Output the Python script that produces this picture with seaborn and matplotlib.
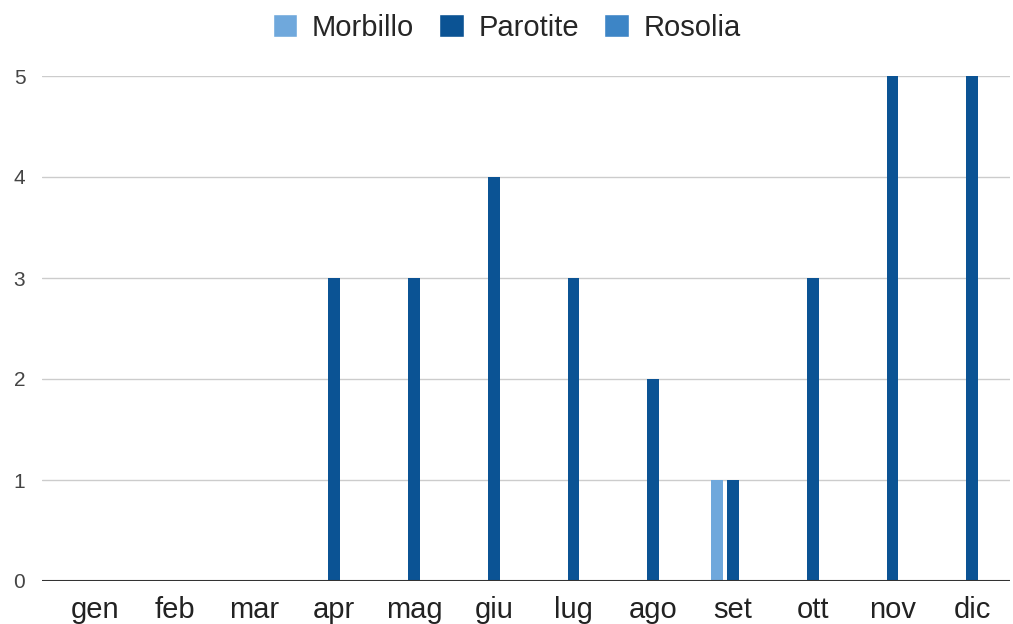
import matplotlib.pyplot as plt
import pandas as pd
import seaborn as sns
from matplotlib.patches import Patch

months = ['gen', 'feb', 'mar', 'apr', 'mag', 'giu', 'lug', 'ago', 'set', 'ott', 'nov', 'dic']
morbillo = [0, 0, 0, 0, 0, 0, 0, 0, 1, 0, 0, 0]
parotite = [0, 0, 0, 3, 3, 4, 3, 2, 1, 3, 5, 5]
rosolia = [0, 0, 0, 0, 0, 0, 0, 0, 0, 0, 0, 0]

series = ['Morbillo', 'Parotite', 'Rosolia']
colors = ['#6fa8dc', '#0b5394', '#3d85c6']

df = pd.DataFrame({
    'mese': months * 3,
    'malattia': [s for s in series for _ in months],
    'casi': morbillo + parotite + rosolia,
})

sns.set_style('white')
plt.rcParams['font.family'] = ['Liberation Sans', 'DejaVu Sans']

fig = plt.figure(figsize=(10.13, 6.24), dpi=100)
ax = fig.add_axes([42 / 1013, 1 - 581 / 624, 968 / 1013, 505 / 624])

sns.barplot(data=df, x='mese', y='casi', hue='malattia', order=months,
            hue_order=series, palette=colors, saturation=1, width=0.6,
            gap=0.25, linewidth=0, ax=ax, legend=False)

ax.set_xlim((42 - 95) / 79.75, (1010 - 95) / 79.75)
ax.set_ylim(0, 5)
ax.set_yticks(range(6))
ax.yaxis.grid(True, color='#cccccc', linewidth=1)
ax.set_axisbelow(True)
ax.axhline(0, color='#333333', linewidth=1.5, zorder=5)
for s in ax.spines.values():
    s.set_visible(False)

ax.set_xlabel('')
ax.set_ylabel('')
ax.tick_params(axis='x', labelsize=21, length=0, pad=11, colors='#222222')
ax.tick_params(axis='y', labelsize=15, length=0, pad=12, colors='#444444')

handles = [Patch(facecolor=c, label=s) for s, c in zip(series, colors)]
fig.legend(handles=handles, loc='upper center', bbox_to_anchor=(0.5, 1.02),
           ncol=3, frameon=False, fontsize=21, handlelength=0.85,
           handleheight=0.85, handletextpad=0.5, columnspacing=0.85)

fig.savefig('out.png', dpi=100)
